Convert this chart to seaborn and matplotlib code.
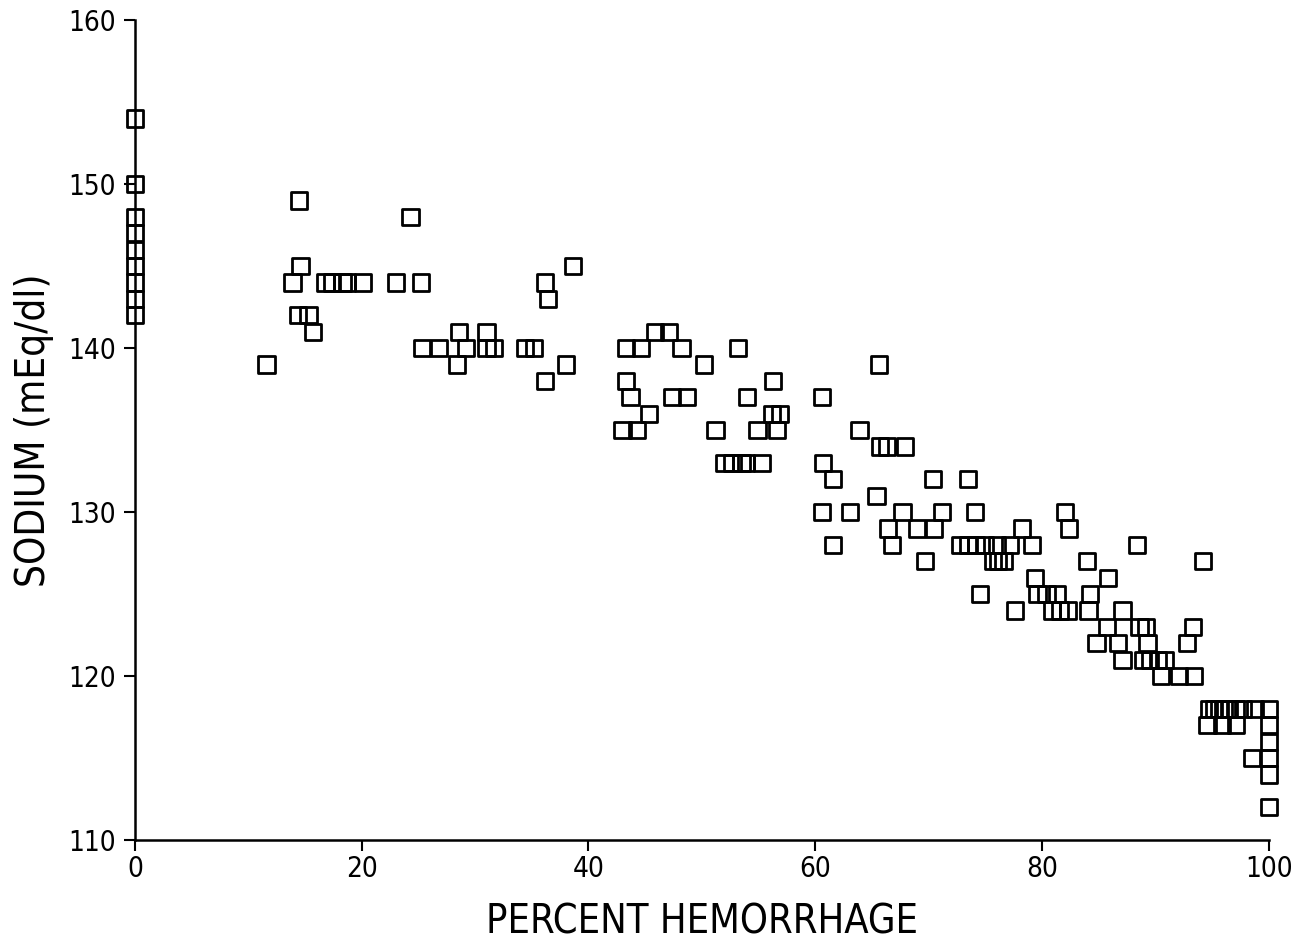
"""Sodio frente a porcentaje de hemorragia (diagrama de dispersión)."""

import matplotlib
matplotlib.use("Agg")
import matplotlib.pyplot as plt
import pandas as pd
import seaborn as sns

# Valores, agrupados por nivel de sodio
pct_hemorrhage = [
    0, 0, 0, 0, 0, 0, 0, 0, 0,
    14.5, 24.3,
    14.6, 38.6,
    13.9, 16.8, 17.4, 18.3, 18.7, 20.1, 23.0, 25.2, 36.2,
    36.4,
    14.4, 15.3,
    15.7, 28.6, 31.0, 45.9, 47.1,
    25.3, 26.8, 29.2, 31.0, 31.7, 34.4, 35.2, 43.3, 44.6, 48.2, 53.2,
    11.6, 28.4, 38.0, 50.2, 65.6,
    36.2, 43.3, 56.3,
    43.7, 47.4, 48.7, 54.0, 60.6,
    45.3, 56.2, 56.9,
    43.0, 44.3, 51.2, 54.9, 56.6, 63.9,
    65.7, 66.3, 67.9,
    52.0, 52.7, 53.5, 53.9, 55.3, 60.7,
    61.6, 70.4, 73.5,
    65.4,
    60.6, 63.1, 67.7, 71.2, 74.1, 82.0,
    66.4, 69.0, 70.5, 78.2, 82.4,
    61.6, 66.8, 72.8, 73.5, 74.2, 75.0, 76.0, 77.2, 79.1, 88.4,
    69.7, 75.7, 76.1, 76.6, 84.0, 94.2,
    79.4, 85.8,
    74.5, 79.6, 80.4, 81.3, 84.2,
    77.6, 80.9, 81.6, 82.3, 84.1, 87.1,
    85.7, 88.6, 89.2, 93.3,
    84.8, 86.7, 89.3, 92.8,
    87.1, 88.9, 89.5, 90.2, 90.8,
    90.5, 92.1, 93.4,
    94.7, 95.2, 95.6, 96.0, 96.5, 97.1, 97.7, 98.8, 100,
    94.6, 95.9, 97.1, 100,
    100,
    98.5, 100,
    100,
    100,
]

sodium = [
    154, 150, 148, 147, 146, 145, 144, 143, 142,
    149, 148,
    145, 145,
    144, 144, 144, 144, 144, 144, 144, 144, 144,
    143,
    142, 142,
    141, 141, 141, 141, 141,
    140, 140, 140, 140, 140, 140, 140, 140, 140, 140, 140,
    139, 139, 139, 139, 139,
    138, 138, 138,
    137, 137, 137, 137, 137,
    136, 136, 136,
    135, 135, 135, 135, 135, 135,
    134, 134, 134,
    133, 133, 133, 133, 133, 133,
    132, 132, 132,
    131,
    130, 130, 130, 130, 130, 130,
    129, 129, 129, 129, 129,
    128, 128, 128, 128, 128, 128, 128, 128, 128, 128,
    127, 127, 127, 127, 127, 127,
    126, 126,
    125, 125, 125, 125, 125,
    124, 124, 124, 124, 124, 124,
    123, 123, 123, 123,
    122, 122, 122, 122,
    121, 121, 121, 121, 121,
    120, 120, 120,
    118, 118, 118, 118, 118, 118, 118, 118, 118,
    117, 117, 117, 117,
    116,
    115, 115,
    114,
    112,
]

x_ticks = [0, 20, 40, 60, 80, 100]
y_ticks = [110, 120, 130, 140, 150, 160]

df = pd.DataFrame({"pct": pct_hemorrhage, "sodium": sodium})

sns.set_style("ticks")
plt.rcParams["font.family"] = ["DejaVu Sans"]
plt.rcParams["font.stretch"] = "condensed"
plt.rcParams["axes.labelcolor"] = "black"

fig = plt.figure(figsize=(13.04, 9.41), dpi=100)
ax = fig.add_axes([0.1035, 0.1073, 0.8695, 0.8714])

sns.scatterplot(
    data=df, x="pct", y="sodium", ax=ax,
    marker="s", s=135, color="black",
    facecolor="none", edgecolor="black", linewidth=2,
    clip_on=False, zorder=3,
)

ax.set_xlim(0, 100)
ax.set_ylim(110, 160)
ax.set_xticks(x_ticks)
ax.set_yticks(y_ticks)
ax.tick_params(axis="both", labelsize=20, length=8, width=1.5,
               direction="out", colors="black")
ax.tick_params(axis="x", pad=3)
ax.tick_params(axis="y", pad=6)
for side in ["top", "right"]:
    ax.spines[side].set_visible(False)
for side in ["left", "bottom"]:
    ax.spines[side].set_linewidth(1.8)
    ax.spines[side].set_color("black")

ax.set_xlabel("PERCENT HEMORRHAGE", fontsize=28.5, labelpad=14)
ax.set_ylabel("SODIUM (mEq/dl)", fontsize=29, labelpad=10)

fig.savefig("out.png", dpi=100, facecolor="white")
plt.close(fig)
